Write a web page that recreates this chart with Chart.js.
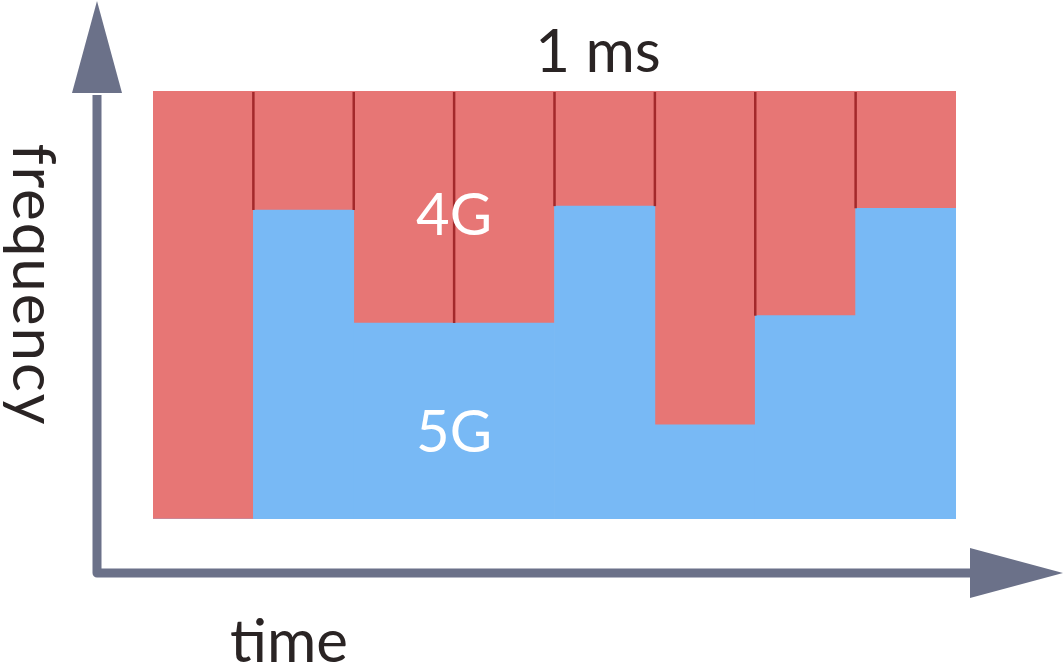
<!DOCTYPE html>
<html lang="en">
<head>
    <meta charset="UTF-8">
    <title>4G / 5G sharing in 1 ms</title>
    <script src="https://cdn.jsdelivr.net/npm/chart.js"></script>
    <style>
        html, body { margin: 0; padding: 0; background: #ffffff; }
        #wrap { width: 1063px; height: 664px; }
    </style>
</head>
<body>
    <div id="wrap"><canvas id="slotChart" width="1063" height="664"></canvas></div>

    <script>
        // time slots inside the 1 ms frame (share of the band, bottom = 5G, top = 4G)
        const slots = ['1', '2', '3', '4', '5', '6', '7', '8'];
        const band5G = [0, 72.2, 45.8, 45.8, 73.1, 22.0, 47.5, 72.6];
        const band4G = [100, 27.8, 54.2, 54.2, 26.9, 78.0, 52.5, 27.4];

        const axisColor = '#6b7189';
        const textColor = '#2a2424';
        const font = 'Lato, "Noto Sans", sans-serif';

        // arrows, captions and the dark lines between 4G slots
        const decorations = {
            id: 'decorations',
            afterDatasetsDraw(chart) {
                const ctx = chart.ctx;
                const area = chart.chartArea;
                const y = chart.scales.y;
                const bars4G = chart.getDatasetMeta(1).data;

                // dividers between neighbouring 4G slots
                ctx.save();
                ctx.strokeStyle = '#a3292b';
                ctx.lineWidth = 2.5;
                for (let i = 0; i < bars4G.length - 1; i++) {
                    const x = bars4G[i].x + bars4G[i].width / 2;
                    const yEnd = y.getPixelForValue(Math.max(band5G[i], band5G[i + 1]));
                    ctx.beginPath();
                    ctx.moveTo(x, area.top + 1);
                    ctx.lineTo(x, yEnd);
                    ctx.stroke();
                }
                ctx.restore();

                // axes
                const ax = area.left - 56;
                const ay = area.bottom + 54;
                ctx.save();
                ctx.strokeStyle = axisColor;
                ctx.fillStyle = axisColor;
                ctx.lineWidth = 9;
                ctx.lineJoin = 'round';
                ctx.beginPath();
                ctx.moveTo(ax, area.top + 4);
                ctx.lineTo(ax, ay);
                ctx.lineTo(area.right + 16, ay);
                ctx.stroke();
                // heads
                ctx.beginPath();
                ctx.moveTo(ax, 1);
                ctx.lineTo(ax - 25, area.top + 2);
                ctx.lineTo(ax + 25, area.top + 2);
                ctx.closePath();
                ctx.fill();
                ctx.beginPath();
                ctx.moveTo(1063, ay);
                ctx.lineTo(area.right + 14, ay - 25);
                ctx.lineTo(area.right + 14, ay + 25);
                ctx.closePath();
                ctx.fill();
                ctx.restore();

                // captions
                ctx.save();
                ctx.fillStyle = textColor;
                ctx.textAlign = 'center';
                ctx.textBaseline = 'alphabetic';
                ctx.font = '60px ' + font;
                ctx.fillText('1 ms', area.left + 445, area.top - 19);
                ctx.fillText('time', area.left + 136, 662);
                ctx.save();
                ctx.translate(13, (area.top + area.bottom) / 2 - 20);
                ctx.rotate(Math.PI / 2);
                ctx.letterSpacing = '2px';
                ctx.fillText('frequency', 0, 0);
                ctx.restore();

                const midX = bars4G[2].x + bars4G[2].width / 2;
                ctx.fillStyle = '#ffffff';
                ctx.font = '58px ' + font;
                ctx.fillText('4G', midX, y.getPixelForValue(66.4));
                ctx.fillText('5G', midX, y.getPixelForValue(15.7));
                ctx.restore();
            }
        };

        const config = {
            type: 'bar',
            data: {
                labels: slots,
                datasets: [
                    {
                        label: '5G',
                        data: band5G,
                        backgroundColor: '#78b9f5',
                        borderWidth: 0,
                        barPercentage: 1,
                        categoryPercentage: 1
                    },
                    {
                        label: '4G',
                        data: band4G,
                        backgroundColor: '#e77675',
                        borderWidth: 0,
                        barPercentage: 1,
                        categoryPercentage: 1
                    }
                ]
            },
            options: {
                responsive: false,
                animation: false,
                layout: {
                    padding: { left: 153, right: 107, top: 91, bottom: 145 }
                },
                plugins: {
                    legend: { display: false },
                    tooltip: { enabled: false }
                },
                scales: {
                    x: { stacked: true, display: false },
                    y: { stacked: true, display: false, min: 0, max: 100 }
                }
            },
            plugins: [decorations]
        };

        const slotChart = new Chart(document.getElementById('slotChart'), config);
    </script>
</body>
</html>
